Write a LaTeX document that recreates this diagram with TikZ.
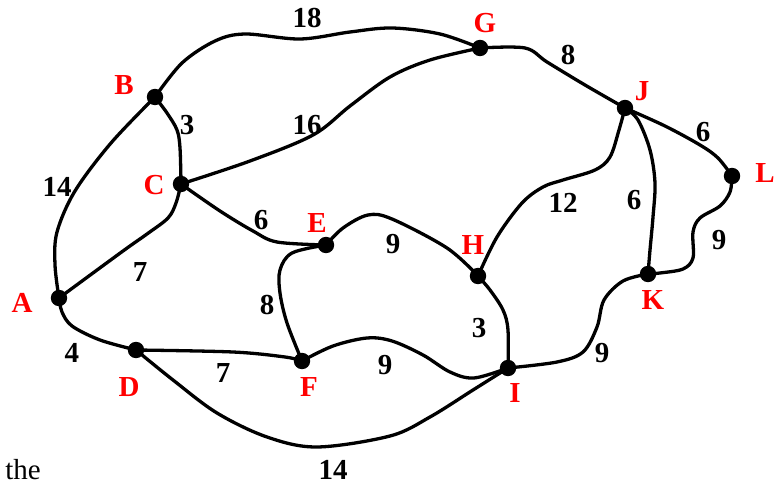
\documentclass[tikz,border=0pt]{standalone}
\usepackage{fontspec}
\setmainfont{Liberation Serif}
\usetikzlibrary{backgrounds}
\begin{document}
\begin{tikzpicture}[x=0.5pt,y=-0.5pt,
  dot/.style={circle,fill=black,inner sep=0pt,minimum size=8.2pt},
  vlabel/.style={text=red,font=\fontsize{14.5}{16}\selectfont\bfseries,anchor=base,inner sep=0pt},
  wlabel/.style={text=black,font=\fontsize{14.5}{16}\selectfont\bfseries,anchor=base,inner sep=0pt},
  edge/.style={line width=1.65pt,line join=round,line cap=round}]
\useasboundingbox (0,0) rectangle (777,486);
% vertices
\node[dot] (A) at (59,298) {};
\node[dot] (B) at (155,97) {};
\node[dot] (C) at (181,184) {};
\node[dot] (D) at (136,350) {};
\node[dot] (E) at (326,245) {};
\node[dot] (F) at (302,361) {};
\node[dot] (G) at (480,48) {};
\node[dot] (H) at (478,276) {};
\node[dot] (I) at (508,368) {};
\node[dot] (J) at (625,108) {};
\node[dot] (K) at (648,274) {};
\node[dot] (L) at (732,176) {};
% vertex labels
\node[vlabel] (lA) at (22,313) {A};
\node[vlabel] (lB) at (124,95) {B};
\node[vlabel] (lC) at (154,195) {C};
\node[vlabel] (lD) at (129,397) {D};
\node[vlabel] (lE) at (317,233) {E};
\node[vlabel] (lF) at (309,397) {F};
\node[vlabel] (lG) at (485,33) {G};
\node[vlabel] (lH) at (473,255) {H};
\node[vlabel] (lI) at (515,402) {I};
\node[vlabel] (lJ) at (642,101) {J};
\node[vlabel] (lK) at (653,310) {K};
\node[vlabel] (lL) at (765,183) {L};
% weights
\node[wlabel] (w18) at (307,28) {18};
\node[wlabel] (w3a) at (187,135) {3};
\node[wlabel] (w16) at (307,135) {16};
\node[wlabel] (w14a) at (57,197) {14};
\node[wlabel] (w6a) at (261,230) {6};
\node[wlabel] (w8a) at (568,65) {8};
\node[wlabel] (w6b) at (703,142) {6};
\node[wlabel] (w12) at (563,213) {12};
\node[wlabel] (w6c) at (634,210) {6};
\node[wlabel] (w9a) at (719,250) {9};
\node[wlabel] (w9b) at (393,254) {9};
\node[wlabel] (w7a) at (140,282) {7};
\node[wlabel] (w8b) at (267,315) {8};
\node[wlabel] (w4) at (72,363) {4};
\node[wlabel] (w7b) at (223,383) {7};
\node[wlabel] (w9c) at (385,375) {9};
\node[wlabel] (w14b) at (333,480) {14};
\node[wlabel] (w3b) at (479,338) {3};
\node[wlabel] (w9d) at (602,363) {9};
\node[anchor=base west,inner sep=0pt,font=\fontsize{14.5}{16}\selectfont] (the) at (5,480) {the};
% edges
\begin{pgfonlayer}{background}
\draw[edge] plot[smooth,tension=0.55] coordinates {(B.center) (182,63) (215,41) (245,34) (300,39) (350,32) (392,28) (440,34) (G.center)};
\draw[edge] plot[smooth,tension=0.55] coordinates {(B.center) (167,113) (177,130) (180,148) (C.center)};
\draw[edge] plot[smooth,tension=0.55] coordinates {(C.center) (250,161) (313,135) (350,106) (390,77) (430,60) (G.center)};
\draw[edge] plot[smooth,tension=0.55] coordinates {(G.center) (525,48) (547,62) (585,85) (J.center)};
\draw[edge] plot[smooth,tension=0.55] coordinates {(J.center) (665,126) (700,145) (718,158) (L.center)};
\draw[edge] plot[smooth,tension=0.55] coordinates {(J.center) (619,130) (610,157) (595,170) (563,180) (543,187) (522,203) (497,237) (H.center)};
\draw[edge] plot[smooth,tension=0.55] coordinates {(J.center) (638,120) (650,150) (655,183) (653,217) (650,250) (K.center)};
\draw[edge] plot[smooth,tension=0.55] coordinates {(L.center) (730,192) (720,206) (700,218) (693,232) (693,258) (683,269) (660,273) (K.center)};
\draw[edge] plot[smooth,tension=0.55] coordinates {(K.center) (623,281) (604,300) (597,327) (583,352) (557,362) (I.center)};
\draw[edge] plot[smooth,tension=0.55] coordinates {(H.center) (490,290) (503,310) (508,330) (I.center)};
\draw[edge] plot[smooth,tension=0.55] coordinates {(E.center) (343,228) (368,215) (392,219) (447,248) (H.center)};
\draw[edge] plot[smooth,tension=0.55] coordinates {(C.center) (220,211) (253,231) (277,242) (E.center)};
\draw[edge] plot[smooth,tension=0.55] coordinates {(C.center) (176,203) (168,218) (147,234) (123,251) (A.center)};
\draw[edge] plot[smooth,tension=0.55] coordinates {(B.center) (111,143) (75,191) (57,232) (55,265) (A.center)};
\draw[edge] plot[smooth,tension=0.55] coordinates {(A.center) (62,312) (72,326) (100,340) (D.center)};
\draw[edge] plot[smooth,tension=0.55] coordinates {(D.center) (233,352) (285,357) (F.center)};
\draw[edge] plot[smooth,tension=0.55] coordinates {(E.center) (292,253) (280,270) (280,293) (287,323) (F.center)};
\draw[edge] plot[smooth,tension=0.55] coordinates {(F.center) (333,346) (367,338) (392,341) (423,355) (450,372) (474,378) (I.center)};
\draw[edge] plot[smooth,tension=0.55] coordinates {(D.center) (173,380) (217,413) (267,437) (317,447) (390,436) (430,417) (473,390) (I.center)};
\end{pgfonlayer}
\end{tikzpicture}
\end{document}
